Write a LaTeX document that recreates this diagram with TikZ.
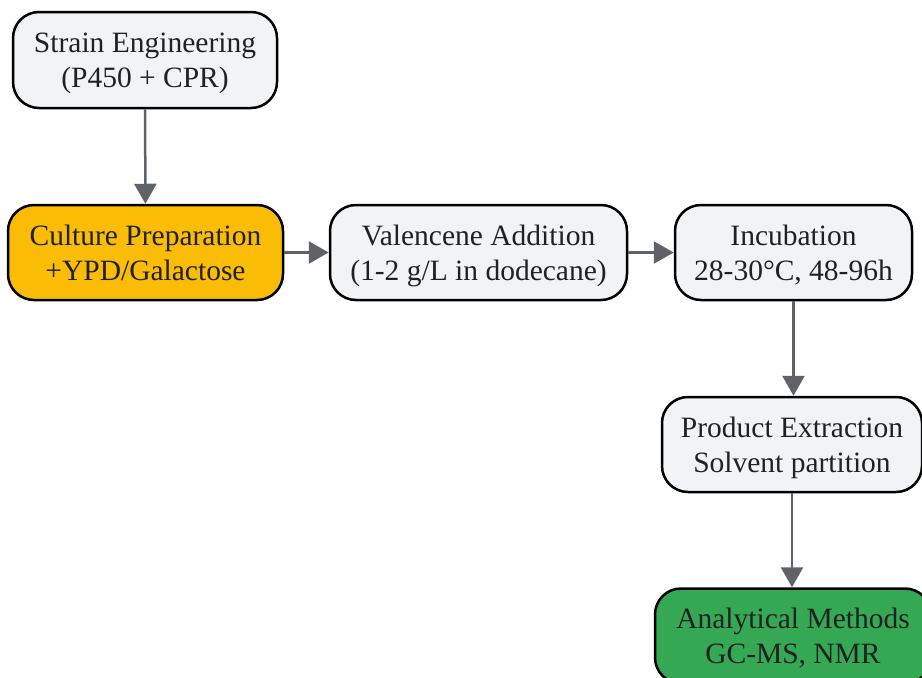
\documentclass[tikz,border=0pt]{standalone}
\usepackage{fontspec}
\setmainfont{Liberation Serif}
\usetikzlibrary{arrows.meta}
\definecolor{boxgray}{HTML}{F1F3F4}
\definecolor{boxorange}{HTML}{FBBC05}
\definecolor{boxgreen}{HTML}{34A853}
\definecolor{arrowgray}{HTML}{5F6368}
\definecolor{textdark}{HTML}{202124}
\newcommand\topstrutx{\rule{0pt}{28pt}}
\newcommand\botstrutx{\rule[-8pt]{0pt}{8pt}}
\tikzset{
  stepbox/.style={draw=black, line width=2.5pt, rounded corners=26pt, fill=boxgray,
    text=textdark, align=center, font=\fontsize{29.5pt}{35pt}\selectfont,
    minimum height=95pt, inner sep=0pt},
  conn/.style={draw=arrowgray, line width=2.5pt, -{Triangle[length=20pt,width=22pt]}}
}
\begin{document}
\begin{tikzpicture}[x=1pt,y=1pt]
\useasboundingbox (0,0) rectangle (922,-678);
\node[stepbox, minimum width=264pt, minimum height=96pt] (strain) at (145,-60) {\topstrutx Strain Engineering\\(P450 + CPR)\botstrutx};
\node[stepbox, fill=boxorange, minimum width=275pt] (culture) at (145.5,-252.5) {\topstrutx Culture Preparation\\+YPD/Galactose\botstrutx};
\node[stepbox, minimum width=297pt] (val) at (478.5,-252.5) {\topstrutx Valencene Addition\\(1-2 g/L in dodecane)\botstrutx};
\node[stepbox, minimum width=237pt] (incub) at (793.5,-252.5) {\topstrutx Incubation\\28-30°C, 48-96h\botstrutx};
\node[stepbox, minimum width=260pt] (extr) at (792,-444.5) {\topstrutx Product Extraction\\Solvent partition\botstrutx};
\node[stepbox, fill=boxgreen, minimum width=276pt] (anal) at (793,-636) {\topstrutx Analytical Methods\\GC-MS, NMR\botstrutx};
\draw[conn] (strain) -- (culture);
\draw[conn] (culture) -- (val);
\draw[conn] (val) -- (incub);
\draw[conn] (incub.south) -- (incub.south |- extr.north);
\draw[conn] (extr.south) -- (extr.south |- anal.north);
\end{tikzpicture}
\end{document}
